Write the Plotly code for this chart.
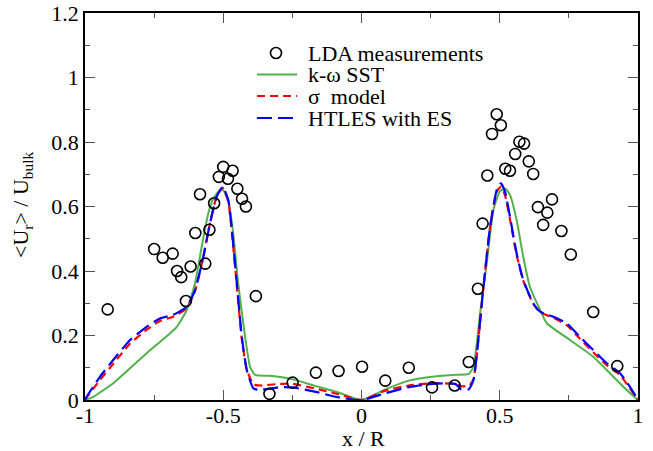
import plotly.graph_objects as go

# LDA measurements
lda_x = [-0.918, -0.750, -0.719, -0.683, -0.667, -0.652, -0.635, -0.618, -0.601, -0.584,
         -0.565, -0.550, -0.533, -0.516, -0.500, -0.483, -0.466, -0.449, -0.432, -0.418,
         -0.382, -0.333, -0.249, -0.165, -0.083, 0.002, 0.086, 0.171, 0.255, 0.337,
         0.388, 0.421, 0.438, 0.455, 0.472, 0.489, 0.504, 0.520, 0.537, 0.556,
         0.571, 0.588, 0.605, 0.621, 0.638, 0.657, 0.672, 0.689, 0.723, 0.757,
         0.838, 0.925]
lda_y = [0.281, 0.468, 0.441, 0.454, 0.400, 0.381, 0.307, 0.414, 0.518, 0.638,
         0.423, 0.528, 0.610, 0.692, 0.723, 0.686, 0.711, 0.655, 0.624, 0.600,
         0.322, 0.019, 0.054, 0.085, 0.090, 0.103, 0.060, 0.100, 0.039, 0.045,
         0.118, 0.345, 0.547, 0.696, 0.825, 0.886, 0.852, 0.717, 0.711, 0.763,
         0.801, 0.795, 0.740, 0.701, 0.598, 0.543, 0.581, 0.622, 0.524, 0.451,
         0.273, 0.105]

# k-omega SST
sst_x = [-1, -0.97, -0.898, -0.777, -0.668, -0.632, -0.602, -0.578, -0.554, -0.536,
         -0.512, -0.5, -0.482, -0.464, -0.446, -0.421, -0.403, -0.385, -0.331, -0.249,
         -0.165, -0.083, 0, 0.086, 0.171, 0.255, 0.339, 0.388, 0.405, 0.429,
         0.453, 0.477, 0.5, 0.519, 0.537, 0.561, 0.585, 0.609, 0.646, 0.670,
         0.754, 0.838, 0.911, 0.959, 1]
sst_y = [0, 0.01, 0.052, 0.145, 0.227, 0.279, 0.362, 0.475, 0.579, 0.625,
         0.651, 0.65, 0.62, 0.517, 0.362, 0.196, 0.103, 0.078, 0.075, 0.064,
         0.043, 0.023, 0, 0.033, 0.060, 0.072, 0.078, 0.081, 0.103, 0.269,
         0.424, 0.589, 0.646, 0.656, 0.636, 0.558, 0.444, 0.351, 0.279, 0.238,
         0.186, 0.134, 0.072, 0.031, 0]

# sigma model
sig_x = [-1, -0.994, -0.946, -0.898, -0.837, -0.777, -0.729, -0.681, -0.632, -0.602,
         -0.572, -0.548, -0.524, -0.502, -0.482, -0.470, -0.451, -0.433, -0.415, -0.391,
         -0.367, -0.295, -0.249, -0.165, -0.083, 0, 0.086, 0.171, 0.255, 0.339,
         0.36, 0.388, 0.405, 0.441, 0.465, 0.489, 0.504, 0.519, 0.537, 0.561,
         0.585, 0.621, 0.646, 0.694, 0.742, 0.790, 0.838, 0.887, 0.935, 0.971, 1]
sig_y = [0, 0.008, 0.062, 0.112, 0.175, 0.218, 0.245, 0.258, 0.285, 0.338,
         0.444, 0.548, 0.630, 0.658, 0.615, 0.530, 0.355, 0.190, 0.095, 0.048,
         0.045, 0.050, 0.050, 0.035, 0.018, 0, 0.029, 0.045, 0.052, 0.050,
         0.043, 0.043, 0.065, 0.351, 0.537, 0.645, 0.662, 0.635, 0.560, 0.450,
         0.370, 0.298, 0.272, 0.255, 0.232, 0.190, 0.148, 0.108, 0.078, 0.035, 0]

# HTLES with ES
htl_x = sig_x
htl_y = [0, 0.010, 0.072, 0.124, 0.186, 0.227, 0.253, 0.264, 0.289, 0.341,
         0.444, 0.548, 0.630, 0.661, 0.620, 0.537, 0.362, 0.196, 0.093, 0.036,
         0.031, 0.040, 0.039, 0.025, 0.008, 0, 0.021, 0.040, 0.050, 0.050,
         0.033, 0.033, 0.062, 0.351, 0.537, 0.651, 0.672, 0.646, 0.568, 0.455,
         0.372, 0.300, 0.274, 0.258, 0.238, 0.196, 0.155, 0.114, 0.083, 0.041, 0]

series_names = ["LDA measurements", "k-ω SST", "σ  model", "HTLES with ES"]

x_ticks = [-1, -0.5, 0, 0.5, 1]
x_ticktext = ["-1", "-0.5", "0", "0.5", "1"]
y_ticks = [0, 0.2, 0.4, 0.6, 0.8, 1, 1.2]
y_ticktext = ["0", "0.2", "0.4", "0.6", "0.8", "1", "1.2"]
x_title = "x / R"
y_title = "&lt;U<sub>r</sub>&gt; / U<sub>bulk</sub>"

FONT = "Liberation Serif, Times New Roman, serif"
FS = 22
GREEN = "#4fb24a"
SIG_DASH = "8px,5px"
HTL_DASH = "15px,6px"

fig = go.Figure()
fig.add_trace(go.Scatter(x=sst_x, y=sst_y, mode="lines", name=series_names[1],
                         line=dict(color=GREEN, width=2, shape="spline", smoothing=0.5)))
fig.add_trace(go.Scatter(x=sig_x, y=sig_y, mode="lines", name=series_names[2],
                         line=dict(color="#ff0000", width=2.2, dash=SIG_DASH,
                                   shape="spline", smoothing=0.5)))
fig.add_trace(go.Scatter(x=htl_x, y=htl_y, mode="lines", name=series_names[3],
                         line=dict(color="#0000ff", width=2.2, dash=HTL_DASH,
                                   shape="spline", smoothing=0.5)))
fig.add_trace(go.Scatter(x=lda_x, y=lda_y, mode="markers", name=series_names[0],
                         marker=dict(symbol="circle-open", size=11, color="black",
                                     line=dict(width=1.6, color="black"))))

axis_common = dict(showline=True, linecolor="black", linewidth=1.5, mirror="allticks",
                   ticks="inside", ticklen=10, tickwidth=1.3, tickcolor="#555555",
                   showgrid=False, zeroline=False, automargin=False,
                   ticklabeloverflow="allow",
                   tickfont=dict(family=FONT, size=FS, color="black"))

fig.update_xaxes(range=[-1, 1], tickvals=x_ticks, ticktext=x_ticktext,
                 ticklabelstandoff=-5,
                 minor=dict(dtick=0.25, ticks="inside", ticklen=5, tickwidth=1.3,
                            tickcolor="#555555"),
                 **axis_common)
fig.update_yaxes(range=[0, 1.2], tickvals=y_ticks, ticktext=y_ticktext,
                 minor=dict(dtick=0.1, ticks="inside", ticklen=5, tickwidth=1.3,
                            tickcolor="#555555"),
                 **axis_common)

# plot area in window pixels (page body margin is removed below)
L, R_, T, B = 85, 638, 13, 400
def px(xw):
    return (xw - L) / (R_ - L)
def py(yw):
    return (B - yw) / (B - T)

rows = [53, 74.5, 96, 118]
shapes = [
    dict(type="circle", xref="paper", yref="paper", xsizemode="pixel", ysizemode="pixel",
         xanchor=px(276), yanchor=py(rows[0]), x0=-5.5, x1=5.5, y0=-5.5, y1=5.5,
         line=dict(color="black", width=1.6)),
    dict(type="line", xref="paper", yref="paper", x0=px(257), x1=px(297),
         y0=py(rows[1]), y1=py(rows[1]), line=dict(color=GREEN, width=2)),
    dict(type="line", xref="paper", yref="paper", x0=px(257), x1=px(297),
         y0=py(rows[2]), y1=py(rows[2]), line=dict(color="#ff0000", width=2.2, dash=SIG_DASH)),
    dict(type="line", xref="paper", yref="paper", x0=px(257), x1=px(297),
         y0=py(rows[3]), y1=py(rows[3]), line=dict(color="#0000ff", width=2.2, dash=HTL_DASH)),
]
annotations = [
    dict(text=name, xref="paper", yref="paper", x=px(307), y=py(r), xanchor="left",
         yanchor="middle", showarrow=False, height=20, borderpad=0, valign="middle",
         font=dict(family=FONT, size=FS, color="black"))
    for name, r in zip(series_names, rows)
]
annotations.append(dict(text=x_title, xref="paper", yref="paper", x=px(363), y=py(438),
                        xanchor="center", yanchor="middle", showarrow=False,
                        font=dict(family=FONT, size=FS, color="black")))
annotations.append(dict(text=y_title, xref="paper", yref="paper", x=px(22), y=py(205),
                        xanchor="center", yanchor="middle", showarrow=False, textangle=-90,
                        font=dict(family=FONT, size=FS, color="black")))

W, H = 653, 451
fig.update_layout(
    width=W, height=H,
    margin=dict(l=L, r=W - R_, t=T, b=H - B),
    plot_bgcolor="white", paper_bgcolor="white",
    showlegend=False,
    shapes=shapes, annotations=annotations,
)

fig.write_html("out.html", config={"displayModeBar": False},
               post_script="document.body.style.margin='0';document.body.style.overflow='hidden';")
